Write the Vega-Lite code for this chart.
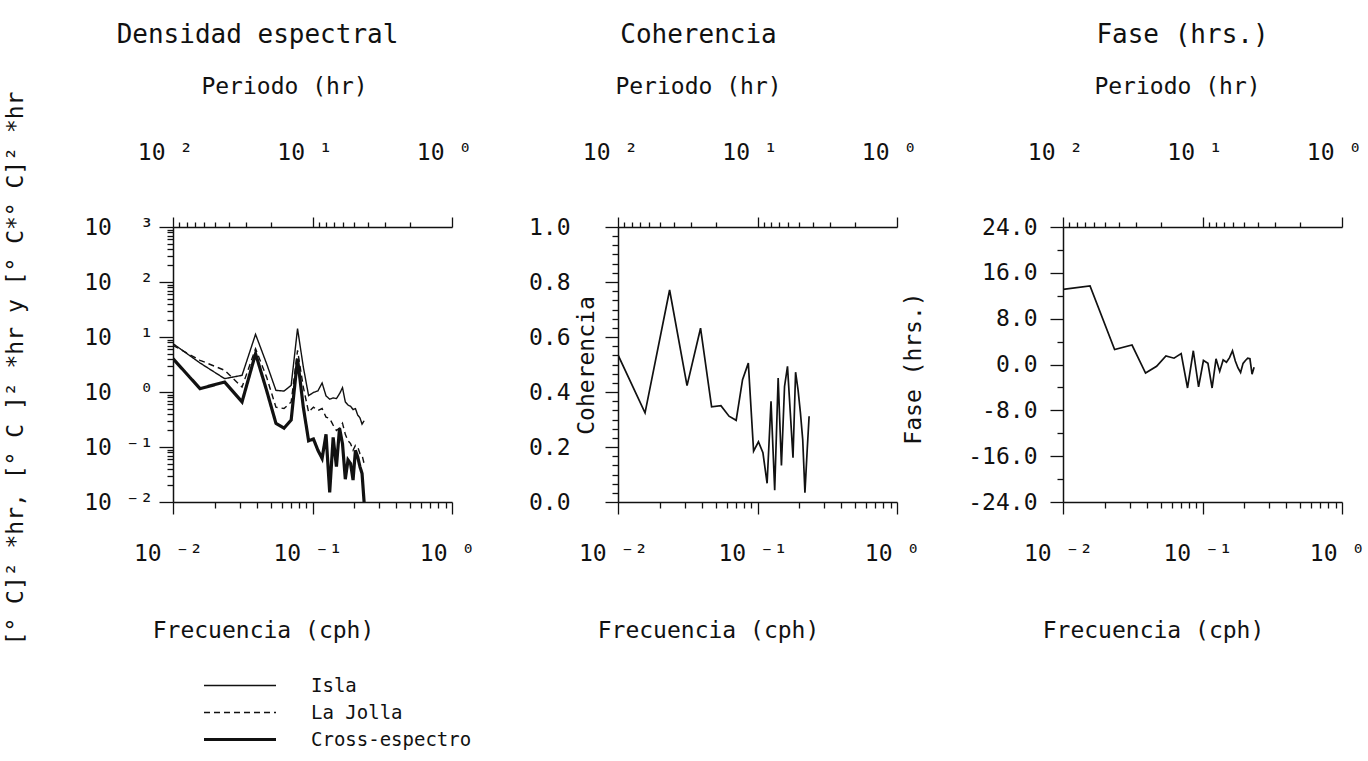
{
  "$schema": "https://vega.github.io/schema/vega-lite/v6.json",
  "autosize": {"type": "none"},
  "padding": {"left": 173, "top": 227, "right": 1195, "bottom": 534},
  "background": "white",
  "datasets": {
    "espectro": [
      {"f": 0.01, "serie": "Isla", "d": 7.57},
      {"f": 0.015625, "serie": "Isla", "d": 3.37},
      {"f": 0.0234375, "serie": "Isla", "d": 1.75},
      {"f": 0.03125, "serie": "Isla", "d": 2.01},
      {"f": 0.0390625, "serie": "Isla", "d": 11.2},
      {"f": 0.046875, "serie": "Isla", "d": 3.27},
      {"f": 0.0546875, "serie": "Isla", "d": 1.07},
      {"f": 0.0625, "serie": "Isla", "d": 1.04},
      {"f": 0.0703125, "serie": "Isla", "d": 1.32},
      {"f": 0.078125, "serie": "Isla", "d": 14.2},
      {"f": 0.0859375, "serie": "Isla", "d": 2.85},
      {"f": 0.09375, "serie": "Isla", "d": 0.86},
      {"f": 0.1015625, "serie": "Isla", "d": 0.98},
      {"f": 0.109375, "serie": "Isla", "d": 1.05},
      {"f": 0.1171875, "serie": "Isla", "d": 1.46},
      {"f": 0.125, "serie": "Isla", "d": 0.85},
      {"f": 0.1328125, "serie": "Isla", "d": 0.74},
      {"f": 0.140625, "serie": "Isla", "d": 0.78},
      {"f": 0.1484375, "serie": "Isla", "d": 0.76},
      {"f": 0.15625, "serie": "Isla", "d": 0.93},
      {"f": 0.1640625, "serie": "Isla", "d": 1.2},
      {"f": 0.171875, "serie": "Isla", "d": 0.66},
      {"f": 0.1796875, "serie": "Isla", "d": 0.58},
      {"f": 0.1875, "serie": "Isla", "d": 0.55},
      {"f": 0.1953125, "serie": "Isla", "d": 0.48},
      {"f": 0.203125, "serie": "Isla", "d": 0.5},
      {"f": 0.2109375, "serie": "Isla", "d": 0.38},
      {"f": 0.21875, "serie": "Isla", "d": 0.34},
      {"f": 0.2265625, "serie": "Isla", "d": 0.26},
      {"f": 0.234375, "serie": "Isla", "d": 0.3},
      {"f": 0.01, "serie": "La Jolla", "d": 7.05},
      {"f": 0.015625, "serie": "La Jolla", "d": 3.77},
      {"f": 0.0234375, "serie": "La Jolla", "d": 2.48},
      {"f": 0.03125, "serie": "La Jolla", "d": 1.23},
      {"f": 0.0390625, "serie": "La Jolla", "d": 6.14},
      {"f": 0.046875, "serie": "La Jolla", "d": 1.87},
      {"f": 0.0546875, "serie": "La Jolla", "d": 0.53},
      {"f": 0.0625, "serie": "La Jolla", "d": 0.5},
      {"f": 0.0703125, "serie": "La Jolla", "d": 0.66},
      {"f": 0.078125, "serie": "La Jolla", "d": 5.73},
      {"f": 0.0859375, "serie": "La Jolla", "d": 1.23},
      {"f": 0.09375, "serie": "La Jolla", "d": 0.43},
      {"f": 0.1015625, "serie": "La Jolla", "d": 0.53},
      {"f": 0.109375, "serie": "La Jolla", "d": 0.46},
      {"f": 0.1171875, "serie": "La Jolla", "d": 0.5},
      {"f": 0.125, "serie": "La Jolla", "d": 0.35},
      {"f": 0.1328125, "serie": "La Jolla", "d": 0.33},
      {"f": 0.140625, "serie": "La Jolla", "d": 0.25},
      {"f": 0.1484375, "serie": "La Jolla", "d": 0.2},
      {"f": 0.15625, "serie": "La Jolla", "d": 0.22},
      {"f": 0.1640625, "serie": "La Jolla", "d": 0.27},
      {"f": 0.171875, "serie": "La Jolla", "d": 0.17},
      {"f": 0.1796875, "serie": "La Jolla", "d": 0.13},
      {"f": 0.1875, "serie": "La Jolla", "d": 0.115},
      {"f": 0.1953125, "serie": "La Jolla", "d": 0.087},
      {"f": 0.203125, "serie": "La Jolla", "d": 0.107},
      {"f": 0.2109375, "serie": "La Jolla", "d": 0.1},
      {"f": 0.21875, "serie": "La Jolla", "d": 0.076},
      {"f": 0.2265625, "serie": "La Jolla", "d": 0.071},
      {"f": 0.234375, "serie": "La Jolla", "d": 0.05},
      {"f": 0.01, "serie": "Cross-espectro", "d": 4.04},
      {"f": 0.015625, "serie": "Cross-espectro", "d": 1.15},
      {"f": 0.0234375, "serie": "Cross-espectro", "d": 1.52},
      {"f": 0.03125, "serie": "Cross-espectro", "d": 0.66},
      {"f": 0.0390625, "serie": "Cross-espectro", "d": 4.98},
      {"f": 0.046875, "serie": "Cross-espectro", "d": 1.07},
      {"f": 0.0546875, "serie": "Cross-espectro", "d": 0.27},
      {"f": 0.0625, "serie": "Cross-espectro", "d": 0.22},
      {"f": 0.0703125, "serie": "Cross-espectro", "d": 0.31},
      {"f": 0.078125, "serie": "Cross-espectro", "d": 4.04},
      {"f": 0.0859375, "serie": "Cross-espectro", "d": 0.53},
      {"f": 0.09375, "serie": "Cross-espectro", "d": 0.13},
      {"f": 0.1015625, "serie": "Cross-espectro", "d": 0.14},
      {"f": 0.109375, "serie": "Cross-espectro", "d": 0.087},
      {"f": 0.1171875, "serie": "Cross-espectro", "d": 0.062},
      {"f": 0.125, "serie": "Cross-espectro", "d": 0.17},
      {"f": 0.1328125, "serie": "Cross-espectro", "d": 0.015},
      {"f": 0.140625, "serie": "Cross-espectro", "d": 0.15},
      {"f": 0.1484375, "serie": "Cross-espectro", "d": 0.044},
      {"f": 0.15625, "serie": "Cross-espectro", "d": 0.22},
      {"f": 0.1640625, "serie": "Cross-espectro", "d": 0.115},
      {"f": 0.171875, "serie": "Cross-espectro", "d": 0.026},
      {"f": 0.1796875, "serie": "Cross-espectro", "d": 0.058},
      {"f": 0.1875, "serie": "Cross-espectro", "d": 0.05},
      {"f": 0.1953125, "serie": "Cross-espectro", "d": 0.025},
      {"f": 0.203125, "serie": "Cross-espectro", "d": 0.087},
      {"f": 0.2109375, "serie": "Cross-espectro", "d": 0.066},
      {"f": 0.21875, "serie": "Cross-espectro", "d": 0.044},
      {"f": 0.2265625, "serie": "Cross-espectro", "d": 0.033},
      {"f": 0.234375, "serie": "Cross-espectro", "d": 0.01}
    ],
    "coherencia": [
      {"f": 0.01, "coh": 0.535},
      {"f": 0.015625, "coh": 0.324},
      {"f": 0.0234375, "coh": 0.771},
      {"f": 0.03125, "coh": 0.423},
      {"f": 0.0390625, "coh": 0.632},
      {"f": 0.046875, "coh": 0.346},
      {"f": 0.0546875, "coh": 0.35},
      {"f": 0.0625, "coh": 0.312},
      {"f": 0.0703125, "coh": 0.297},
      {"f": 0.078125, "coh": 0.445},
      {"f": 0.0859375, "coh": 0.505},
      {"f": 0.09375, "coh": 0.185},
      {"f": 0.1015625, "coh": 0.219},
      {"f": 0.109375, "coh": 0.179},
      {"f": 0.1171875, "coh": 0.068},
      {"f": 0.125, "coh": 0.366},
      {"f": 0.1328125, "coh": 0.043},
      {"f": 0.140625, "coh": 0.451},
      {"f": 0.1484375, "coh": 0.133},
      {"f": 0.15625, "coh": 0.42},
      {"f": 0.1640625, "coh": 0.493},
      {"f": 0.171875, "coh": 0.324},
      {"f": 0.1796875, "coh": 0.161},
      {"f": 0.1875, "coh": 0.472},
      {"f": 0.1953125, "coh": 0.408},
      {"f": 0.203125, "coh": 0.324},
      {"f": 0.2109375, "coh": 0.227},
      {"f": 0.21875, "coh": 0.034},
      {"f": 0.2265625, "coh": 0.179},
      {"f": 0.234375, "coh": 0.312}
    ],
    "fase": [
      {"f": 0.01, "fase": 13.1},
      {"f": 0.015625, "fase": 13.7},
      {"f": 0.0234375, "fase": 2.6},
      {"f": 0.03125, "fase": 3.4},
      {"f": 0.0390625, "fase": -1.5},
      {"f": 0.046875, "fase": -0.3},
      {"f": 0.0546875, "fase": 1.5},
      {"f": 0.0625, "fase": 1.1},
      {"f": 0.0703125, "fase": 1.9},
      {"f": 0.078125, "fase": -4.1},
      {"f": 0.0859375, "fase": 2.4},
      {"f": 0.09375, "fase": -3.9},
      {"f": 0.1015625, "fase": 0.7},
      {"f": 0.109375, "fase": 0.2},
      {"f": 0.1171875, "fase": -4.1},
      {"f": 0.125, "fase": 1.0},
      {"f": 0.1328125, "fase": -1.2},
      {"f": 0.140625, "fase": 0.8},
      {"f": 0.1484375, "fase": 0.4},
      {"f": 0.15625, "fase": 1.2},
      {"f": 0.1640625, "fase": 2.4},
      {"f": 0.171875, "fase": 0.6},
      {"f": 0.1796875, "fase": -0.6},
      {"f": 0.1875, "fase": -1.4},
      {"f": 0.1953125, "fase": 0.2},
      {"f": 0.203125, "fase": 0.7},
      {"f": 0.2109375, "fase": 1.1},
      {"f": 0.21875, "fase": 1.0},
      {"f": 0.2265625, "fase": -1.7},
      {"f": 0.234375, "fase": -0.5}
    ]
  },
  "hconcat": [
    {
      "width": 279,
      "height": 275,
      "title": {"text": "Densidad espectral", "anchor": "middle", "frame": "group", "dx": -55, "offset": 27},
      "layer": [
        {
          "data": {"name": "espectro"},
          "mark": {"type": "line", "clip": true, "color": "#111"},
          "encoding": {
            "x": {
              "field": "f", "type": "quantitative",
              "scale": {"type": "log", "domain": [0.01, 1]},
              "axis": {
                "orient": "bottom",
                "values": [0.01, 0.02, 0.03, 0.04, 0.05, 0.06, 0.07, 0.08, 0.09, 0.1, 0.2, 0.3, 0.4, 0.5, 0.6, 0.7, 0.8, 0.9, 1],
                "labelExpr": "datum.value == 0.01 ? '10 ⁻²' : datum.value == 0.1 ? '10 ⁻¹' : datum.value == 1 ? '10 ⁰' : ''",
                "tickSize": {"condition": {"test": "datum.value == 0.01 || datum.value == 0.1 || datum.value == 1", "value": 12}, "value": 6},
                "labelPadding": 28, "labelOffset": -5,
                "title": "Frecuencia (cph)", "titleX": 90, "titleY": 128, "titleBaseline": "middle"
              }
            },
            "y": {
              "field": "d", "type": "quantitative",
              "scale": {"type": "log", "domain": [0.01, 1000]},
              "axis": {
                "values": [0.01, 0.02, 0.03, 0.04, 0.05, 0.06, 0.07, 0.08, 0.09, 0.1, 0.2, 0.3, 0.4, 0.5, 0.6, 0.7, 0.8, 0.9, 1, 2, 3, 4, 5, 6, 7, 8, 9, 10, 20, 30, 40, 50, 60, 70, 80, 90, 100, 200, 300, 400, 500, 600, 700, 800, 900, 1000],
                "labelExpr": "datum.value == 1000 ? '10 \u00a0³' : datum.value == 100 ? '10 \u00a0²' : datum.value == 10 ? '10 \u00a0¹' : datum.value == 1 ? '10 \u00a0⁰' : datum.value == 0.1 ? '10 ⁻¹' : datum.value == 0.01 ? '10 ⁻²' : ''",
                "tickSize": {"condition": {"test": "datum.value == 0.01 || datum.value == 0.1 || datum.value == 1 || datum.value == 10 || datum.value == 100 || datum.value == 1000", "value": 14}, "value": 6},
                "labelPadding": 6,
                "title": "[° C]² *hr, [° C ]² *hr y [° C*° C]² *hr",
                "titleX": -158, "titleY": 141, "titleBaseline": "middle"
              }
            },
            "strokeDash": {
              "field": "serie", "type": "nominal",
              "scale": {"domain": ["Isla", "La Jolla", "Cross-espectro"], "range": [[1, 0], [6, 4], [1, 0]]},
              "legend": {"title": null, "orient": "none", "legendX": 29, "legendY": 445}
            },
            "strokeWidth": {
              "field": "serie", "type": "nominal",
              "scale": {"type": "ordinal", "domain": ["Isla", "La Jolla", "Cross-espectro"], "range": [1.4, 1.4, 3.2]},
              "legend": {"title": null, "orient": "none", "legendX": 29, "legendY": 445}
            }
          }
        },
        {
          "data": {"name": "espectro"},
          "mark": {"type": "point", "opacity": 0},
          "encoding": {
            "x": {
              "field": "f", "type": "quantitative",
              "scale": {"type": "log", "domain": [0.01, 1]},
              "axis": {
                "orient": "top",
                "values": [0.01, 0.011111, 0.0125, 0.0142857, 0.0166667, 0.02, 0.025, 0.0333333, 0.05, 0.1, 0.111111, 0.125, 0.142857, 0.166667, 0.2, 0.25, 0.333333, 0.5, 1],
                "labelExpr": "datum.value == 0.01 ? '10 ²' : datum.value == 0.1 ? '10 ¹' : datum.value == 1 ? '10 ⁰' : ''",
                "tickSize": {"condition": {"test": "datum.value == 0.01 || datum.value == 0.1 || datum.value == 1", "value": 10}, "value": 5},
                "labelPadding": 53, "labelOffset": -8,
                "title": "Periodo (hr)", "titleX": 111, "titleY": -141, "titleBaseline": "middle"
              }
            }
          }
        }
      ],
      "resolve": {"scale": {"x": "independent"}}
    },
    {
      "width": 279,
      "height": 275,
      "title": {"text": "Coherencia", "anchor": "middle", "frame": "group", "dx": -59, "offset": 27},
      "layer": [
        {
          "data": {"name": "coherencia"},
          "mark": {"type": "line", "clip": true, "color": "#111", "strokeWidth": 1.7},
          "encoding": {
            "x": {
              "field": "f", "type": "quantitative",
              "scale": {"type": "log", "domain": [0.01, 1]},
              "axis": {
                "orient": "bottom",
                "values": [0.01, 0.02, 0.03, 0.04, 0.05, 0.06, 0.07, 0.08, 0.09, 0.1, 0.2, 0.3, 0.4, 0.5, 0.6, 0.7, 0.8, 0.9, 1],
                "labelExpr": "datum.value == 0.01 ? '10 ⁻²' : datum.value == 0.1 ? '10 ⁻¹' : datum.value == 1 ? '10 ⁰' : ''",
                "tickSize": {"condition": {"test": "datum.value == 0.01 || datum.value == 0.1 || datum.value == 1", "value": 12}, "value": 6},
                "labelPadding": 28, "labelOffset": -5,
                "title": "Frecuencia (cph)", "titleX": 90, "titleY": 128, "titleBaseline": "middle"
              }
            },
            "y": {
              "field": "coh", "type": "quantitative",
              "scale": {"domain": [0, 1]},
              "axis": {
                "values": [0, 0.0333, 0.0667, 0.1, 0.1333, 0.1667, 0.2, 0.2333, 0.2667, 0.3, 0.3333, 0.3667, 0.4, 0.4333, 0.4667, 0.5, 0.5333, 0.5667, 0.6, 0.6333, 0.6667, 0.7, 0.7333, 0.7667, 0.8, 0.8333, 0.8667, 0.9, 0.9333, 0.9667, 1],
                "labelExpr": "abs(datum.value * 5 - round(datum.value * 5)) < 0.001 ? format(datum.value, '.1f') : ''",
                "tickSize": {"condition": {"test": "abs(datum.value * 5 - round(datum.value * 5)) < 0.001", "value": 13}, "value": 6},
                "labelPadding": 35,
                "title": "Coherencia", "titleX": -32, "titleY": 138, "titleBaseline": "middle"
              }
            }
          }
        },
        {
          "data": {"name": "coherencia"},
          "mark": {"type": "point", "opacity": 0},
          "encoding": {
            "x": {
              "field": "f", "type": "quantitative",
              "scale": {"type": "log", "domain": [0.01, 1]},
              "axis": {
                "orient": "top",
                "values": [0.01, 0.011111, 0.0125, 0.0142857, 0.0166667, 0.02, 0.025, 0.0333333, 0.05, 0.1, 0.111111, 0.125, 0.142857, 0.166667, 0.2, 0.25, 0.333333, 0.5, 1],
                "labelExpr": "datum.value == 0.01 ? '10 ²' : datum.value == 0.1 ? '10 ¹' : datum.value == 1 ? '10 ⁰' : ''",
                "tickSize": {"condition": {"test": "datum.value == 0.01 || datum.value == 0.1 || datum.value == 1", "value": 10}, "value": 5},
                "labelPadding": 53, "labelOffset": -8,
                "title": "Periodo (hr)", "titleX": 80, "titleY": -141, "titleBaseline": "middle"
              }
            }
          }
        }
      ],
      "resolve": {"scale": {"x": "independent"}}
    },
    {
      "width": 279,
      "height": 275,
      "title": {"text": "Fase (hrs.)", "anchor": "middle", "frame": "group", "dx": -20, "offset": 27},
      "layer": [
        {
          "data": {"name": "fase"},
          "mark": {"type": "line", "clip": true, "color": "#111", "strokeWidth": 1.7},
          "encoding": {
            "x": {
              "field": "f", "type": "quantitative",
              "scale": {"type": "log", "domain": [0.01, 1]},
              "axis": {
                "orient": "bottom",
                "values": [0.01, 0.02, 0.03, 0.04, 0.05, 0.06, 0.07, 0.08, 0.09, 0.1, 0.2, 0.3, 0.4, 0.5, 0.6, 0.7, 0.8, 0.9, 1],
                "labelExpr": "datum.value == 0.01 ? '10 ⁻²' : datum.value == 0.1 ? '10 ⁻¹' : datum.value == 1 ? '10 ⁰' : ''",
                "tickSize": {"condition": {"test": "datum.value == 0.01 || datum.value == 0.1 || datum.value == 1", "value": 12}, "value": 6},
                "labelPadding": 28, "labelOffset": -5,
                "title": "Frecuencia (cph)", "titleX": 90, "titleY": 128, "titleBaseline": "middle"
              }
            },
            "y": {
              "field": "fase", "type": "quantitative",
              "scale": {"domain": [-24, 24]},
              "axis": {
                "values": [-24, -20, -16, -12, -8, -4, 0, 4, 8, 12, 16, 20, 24],
                "labelExpr": "datum.value % 8 == 0 ? (datum.value < 0 ? '-' : '') + format(abs(datum.value), '.1f') : ''",
                "tickSize": {"condition": {"test": "datum.value % 8 == 0", "value": 13}, "value": 6},
                "labelPadding": 13,
                "title": "Fase (hrs.)", "titleX": -150, "titleY": 141, "titleBaseline": "middle"
              }
            }
          }
        },
        {
          "data": {"name": "fase"},
          "mark": {"type": "point", "opacity": 0},
          "encoding": {
            "x": {
              "field": "f", "type": "quantitative",
              "scale": {"type": "log", "domain": [0.01, 1]},
              "axis": {
                "orient": "top",
                "values": [0.01, 0.011111, 0.0125, 0.0142857, 0.0166667, 0.02, 0.025, 0.0333333, 0.05, 0.1, 0.111111, 0.125, 0.142857, 0.166667, 0.2, 0.25, 0.333333, 0.5, 1],
                "labelExpr": "datum.value == 0.01 ? '10 ²' : datum.value == 0.1 ? '10 ¹' : datum.value == 1 ? '10 ⁰' : ''",
                "tickSize": {"condition": {"test": "datum.value == 0.01 || datum.value == 0.1 || datum.value == 1", "value": 10}, "value": 5},
                "labelPadding": 53, "labelOffset": -8,
                "title": "Periodo (hr)", "titleX": 114, "titleY": -141, "titleBaseline": "middle"
              }
            }
          }
        }
      ],
      "resolve": {"scale": {"x": "independent"}}
    }
  ],
  "spacing": 166,
  "bounds": "flush",
  "config": {
    "font": "DejaVu Sans Mono",
    "view": {"stroke": null},
    "axis": {
      "grid": false,
      "domainColor": "#111", "domainWidth": 1.5,
      "tickColor": "#111", "tickWidth": 1.3,
      "labelColor": "#111", "labelFont": "DejaVu Sans Mono", "labelFontSize": 23,
      "labelOverlap": false, "labelFlush": false, "labelBound": false,
      "titleColor": "#111", "titleFont": "DejaVu Sans Mono", "titleFontSize": 23, "titleFontWeight": "normal"
    },
    "title": {"font": "DejaVu Sans Mono", "fontSize": 26, "fontWeight": "normal", "color": "#111"},
    "legend": {
      "symbolType": "stroke", "symbolSize": 5184, "symbolStrokeColor": "#111",
      "labelFont": "DejaVu Sans Mono", "labelFontSize": 19, "labelColor": "#111", "labelLimit": 400,
      "labelOffset": 33, "clipHeight": 27, "rowPadding": 0, "padding": 0
    }
  }
}
